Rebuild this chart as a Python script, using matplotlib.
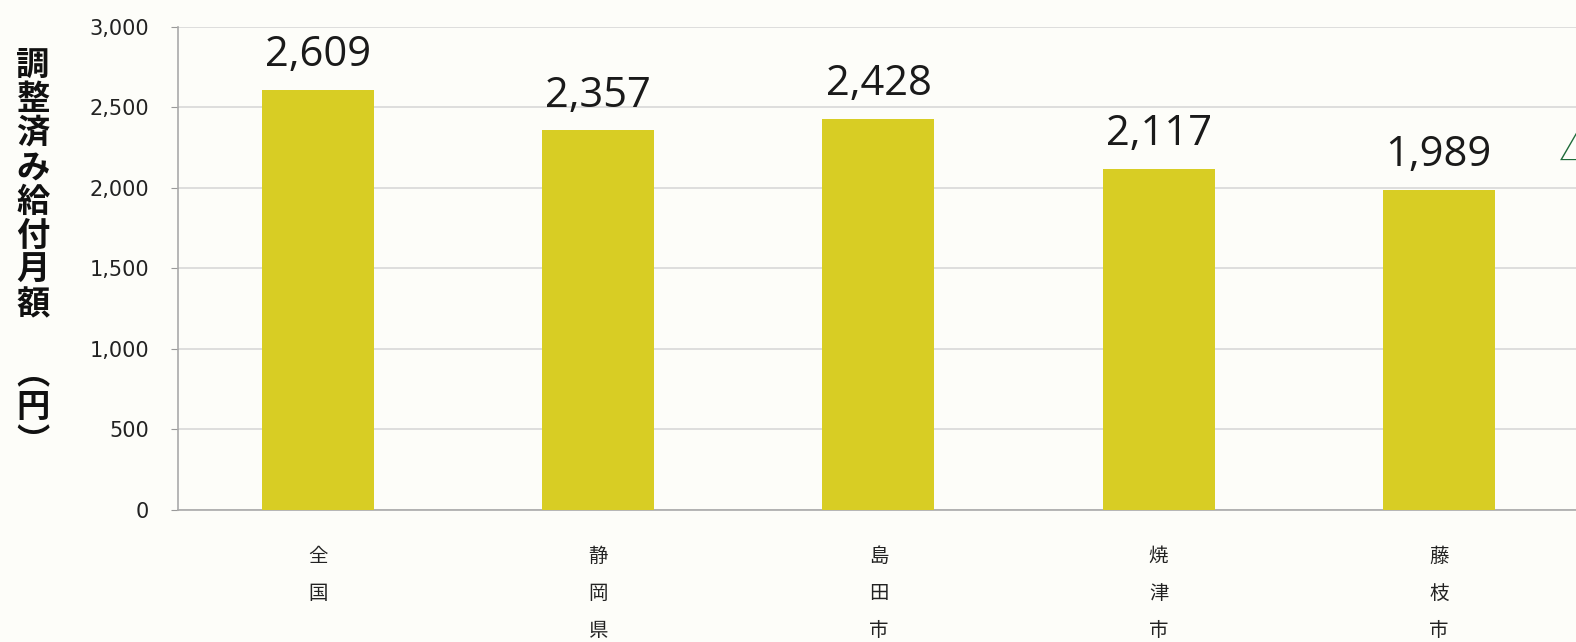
import matplotlib.pyplot as plt

plt.rcParams['font.family'] = ['Noto Sans CJK JP', 'DejaVu Sans']

# データ
categories = ['全国', '静岡県', '島田市', '焼津市', '藤枝市']
values = [2609, 2357, 2428, 2117, 1989]
yticks = [0, 500, 1000, 1500, 2000, 2500, 3000]

bar_color = '#d8cd24'
bg = '#fdfdf9'

fig = plt.figure(figsize=(15.76, 6.42), dpi=100, facecolor=bg)
ax = fig.add_axes([0.113, 0.2056, 0.887, 0.7524], facecolor=bg)

x = list(range(len(categories)))
ax.bar(x, values, width=0.4, color=bar_color, zorder=3)

for xi, v in zip(x, values):
    ax.text(xi, v + 85, f'{v:,}', ha='center', va='bottom', fontsize=30,
            family=['Open Sans', 'DejaVu Sans'], color='#1a1a1a', zorder=4)

# 右端の切れた記号 (元画像でも途中で切れている)
ax.text(4.43, 2230, '△', ha='left', va='center', fontsize=26, color='#1e6b3a',
        clip_on=False)

ax.set_xlim(-0.5, 4.49)
ax.set_ylim(0, 3000)
ax.set_yticks(yticks)
ax.set_yticklabels([f'{t:,}' for t in yticks], fontsize=15,
                   family=['DejaVu Sans'], color='#222222')
ax.tick_params(axis='y', length=5, color='#999999', pad=16)
ax.yaxis.grid(True, color='#d8d8d8', linewidth=1.2, zorder=0)

ax.set_xticks(x)
ax.set_xticklabels(['\n'.join(c) for c in categories], fontsize=14,
                   linespacing=2.0, va='top', color='#222222')
ax.tick_params(axis='x', length=0, pad=26)

for s in ['top', 'right']:
    ax.spines[s].set_visible(False)
ax.spines['left'].set_color('#aaaaaa')
ax.spines['bottom'].set_color('#aaaaaa')
ax.spines['left'].set_linewidth(1.2)
ax.spines['bottom'].set_linewidth(1.2)

ylabel = '\n'.join('調整済み給付月額') + '\n\n' + '\n'.join('︵円︶')
fig.text(0.021, 0.605, ylabel, ha='center', va='center', fontsize=24,
         fontweight='bold', linespacing=1.05, color='#111111')

fig.savefig('out.png', dpi=100, facecolor=bg)
